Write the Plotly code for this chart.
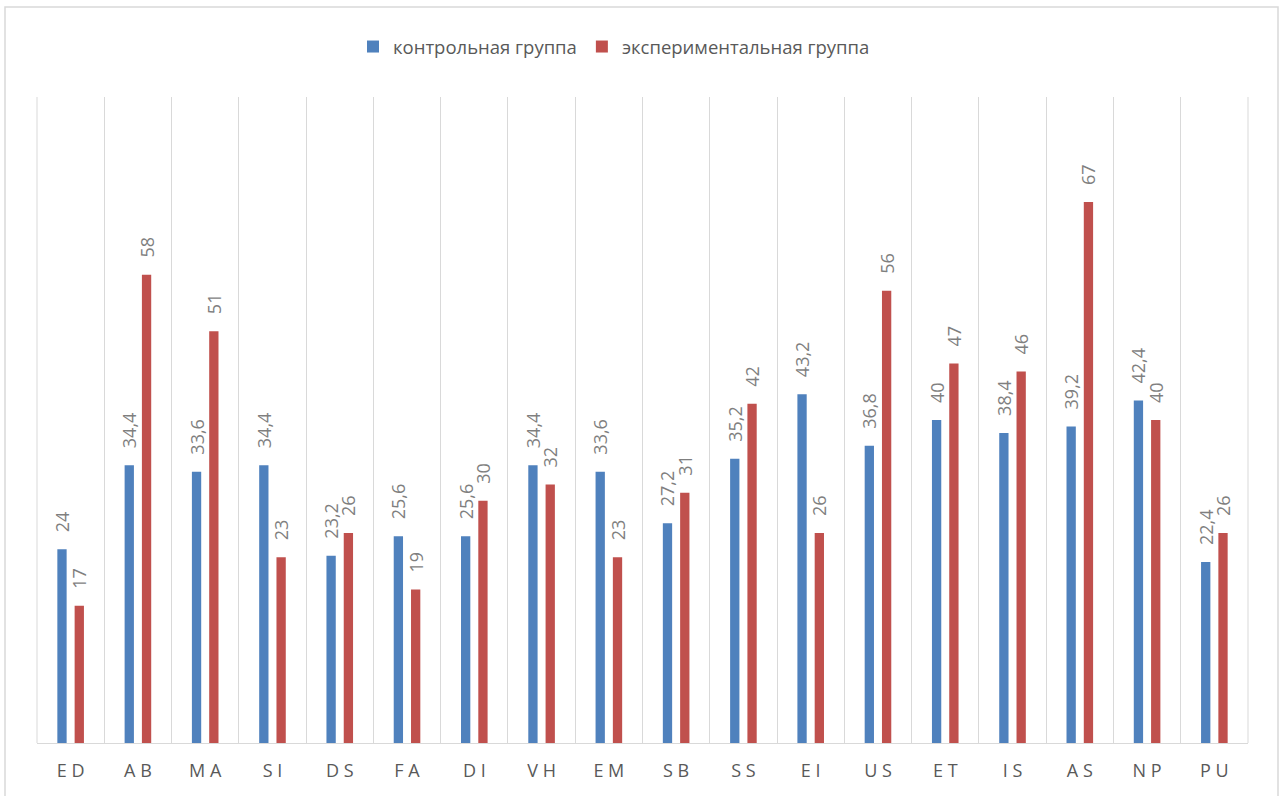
import plotly.graph_objects as go

categories = ["ED", "AB", "MA", "SI", "DS", "FA", "DI", "VH", "EM", "SB",
              "SS", "EI", "US", "ET", "IS", "AS", "NP", "PU"]
tick_labels = [" ".join(c) for c in categories]
control = [24, 34.4, 33.6, 34.4, 23.2, 25.6, 25.6, 34.4, 33.6, 27.2,
           35.2, 43.2, 36.8, 40, 38.4, 39.2, 42.4, 22.4]
experimental = [17, 58, 51, 23, 26, 19, 30, 32, 23, 31,
                42, 26, 56, 47, 46, 67, 40, 26]
series_names = ["контрольная группа", "экспериментальная группа"]
colors = ["#4F81BD", "#C0504D"]

FONT = "Open Sans"
PAD = "\u00a0\u00a0\u00a0"


def fmt(v):
    return PAD + f"{v:g}".replace(".", ",")


fig = go.Figure()
for name, vals, col in zip(series_names, [control, experimental], colors):
    fig.add_trace(go.Bar(
        x=tick_labels, y=vals, name=name,
        marker=dict(color=col, line=dict(width=0)),
        text=[fmt(v) for v in vals],
        textposition="outside", textangle=-90,
        constraintext="none", cliponaxis=False,
        textfont=dict(family=FONT, size=18, color="#7F7F7F"),
    ))

W, H = 1283, 796
ml, mr, mt, mb = 37, 35, 97, 53
pw, ph = W - ml - mr, H - mt - mb


def px_x(x):
    return (x - ml) / pw


def px_y(y):
    return (H - mb - y) / ph


fig.update_layout(
    width=W, height=H,
    margin=dict(l=ml, r=mr, t=mt, b=mb, pad=0),
    paper_bgcolor="white", plot_bgcolor="white",
    barmode="group", bargap=0.486, bargroupgap=0.462,
    font=dict(family=FONT, color="#595959"),
    showlegend=True,
    legend=dict(orientation="h", x=px_x(614), xanchor="center",
                y=px_y(47), yanchor="middle",
                font=dict(family=FONT, size=18.5, color="#595959"),
                bgcolor="rgba(0,0,0,0)"),
    xaxis=dict(type="category", tickson="boundaries", showgrid=True,
               gridcolor="#D9D9D9", gridwidth=1, ticks="",
               showline=True, linecolor="#D9D9D9", linewidth=1,
               tickfont=dict(family=FONT, size=18, color="#595959"),
               ticklabelstandoff=11, zeroline=False),
    yaxis=dict(range=[0, 80], showgrid=False, showticklabels=False,
               zeroline=False, showline=False, ticks=""),
    shapes=[
        dict(type="rect", xref="paper", yref="paper",
             x0=px_x(5), x1=px_x(1278), y0=px_y(810), y1=px_y(7),
             line=dict(color="#D9D9D9", width=1.5),
             fillcolor="rgba(0,0,0,0)", layer="below"),
        dict(type="line", xref="paper", yref="paper", x0=0, x1=0, y0=0, y1=1,
             line=dict(color="#D9D9D9", width=1), layer="below"),
        dict(type="line", xref="paper", yref="paper", x0=1, x1=1, y0=0, y1=1,
             line=dict(color="#D9D9D9", width=1), layer="below"),
    ],
)

fig.write_html("out.html")
